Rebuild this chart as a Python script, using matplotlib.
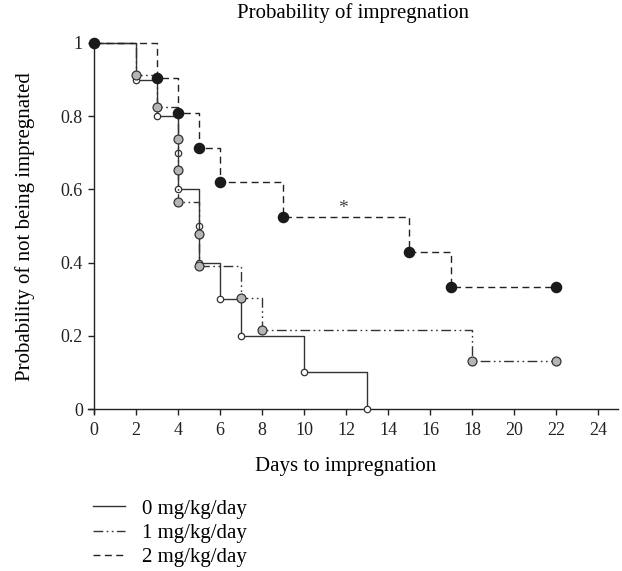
import matplotlib
matplotlib.use('Agg')
import matplotlib.pyplot as plt
from matplotlib.lines import Line2D

plt.rcParams['font.family'] = ['Liberation Serif', 'DejaVu Serif']

# ==================================== data ========================================
days_0mg = [0, 2, 3, 4, 4, 5, 5, 6, 7, 10, 13]
surv_0mg = [1.0, 0.9, 0.8, 0.7, 0.6, 0.5, 0.4, 0.3, 0.2, 0.1, 0.0]

days_1mg = [0, 2, 3, 4, 4, 4, 5, 5, 7, 8, 18, 22]
surv_1mg = [1.0, 0.913, 0.826, 0.739, 0.652, 0.565, 0.478, 0.391, 0.304, 0.217, 0.130, 0.130]

days_2mg = [0, 3, 4, 5, 6, 9, 15, 17, 22]
surv_2mg = [1.0, 0.905, 0.810, 0.714, 0.619, 0.524, 0.429, 0.333, 0.333]

labels = ['0 mg/kg/day', '1 mg/kg/day', '2 mg/kg/day']
x_ticks = list(range(0, 25, 2))
y_ticks = [0, 0.2, 0.4, 0.6, 0.8, 1.0]
y_tick_labels = ['0', '0.2', '0.4', '0.6', '0.8', '1']

line_col = '#333333'
ls_1mg = (0, (7, 2.5, 1.2, 2.5, 1.2, 2.5))
ls_2mg = (0, (5, 3.2))

# ==================================== figure ========================================
fig = plt.figure(figsize=(6.22, 5.71), dpi=100)
ax = fig.add_axes([0.142, 0.2772, 0.8516, 0.6475])

ax.plot(days_0mg, surv_0mg, drawstyle='steps-post', color=line_col, lw=1.0,
        marker='o', ms=4.6, mfc='white', mec=line_col, mew=0.9, clip_on=False, zorder=3)
ax.plot(days_1mg, surv_1mg, drawstyle='steps-post', color=line_col, lw=1.0, ls=ls_1mg,
        marker='o', ms=6.4, mfc='#b5b5b5', mec=line_col, mew=0.9, clip_on=False, zorder=4)
ax.plot(days_2mg, surv_2mg, drawstyle='steps-post', color='#222222', lw=1.0, ls=ls_2mg,
        marker='o', ms=7.3, mfc='#1a1a1a', mec='#1a1a1a', clip_on=False, zorder=5)

ax.text(11.85, 0.548, '*', ha='center', va='center', fontsize=14, color='#444444')

ax.set_xlim(-0.27, 24.95)
ax.set_ylim(-0.01, 1.0)
ax.set_xticks(x_ticks)
ax.set_yticks(y_ticks)
ax.set_yticklabels(y_tick_labels)
ax.spines['top'].set_visible(False)
ax.spines['right'].set_visible(False)
ax.spines['bottom'].set_position(('data', 0))
ax.spines['left'].set_position(('data', 0))
for s in ('bottom', 'left'):
    ax.spines[s].set_color('#222222')
    ax.spines[s].set_linewidth(1.0)
ax.tick_params(direction='out', length=4, width=1.0, colors='#222222',
               labelsize=13, pad=4)
ax.tick_params(axis='x', pad=5)

# titles and axis labels
fig.text(353 / 622, 1 - 13 / 571, 'Probability of impregnation',
         ha='center', va='center', fontsize=15)
fig.text(346 / 622, 1 - 466 / 571, 'Days to impregnation',
         ha='center', va='center', fontsize=15)
fig.text(25 / 622, 1 - 227 / 571, 'Probability of not being impregnated',
         ha='center', va='center', rotation=90, fontsize=15)

handles = [Line2D([], [], color=line_col, lw=1.0),
           Line2D([], [], color=line_col, lw=1.0, ls=ls_1mg),
           Line2D([], [], color='#222222', lw=1.0, ls=ls_2mg)]
fig.legend(handles, labels, loc='upper left', bbox_to_anchor=(93 / 622, 1 - 499 / 571),
           frameon=False, fontsize=15, handlelength=1.55, handletextpad=0.8,
           labelspacing=0.23, borderpad=0, borderaxespad=0)

fig.savefig('out.png', dpi=100)
